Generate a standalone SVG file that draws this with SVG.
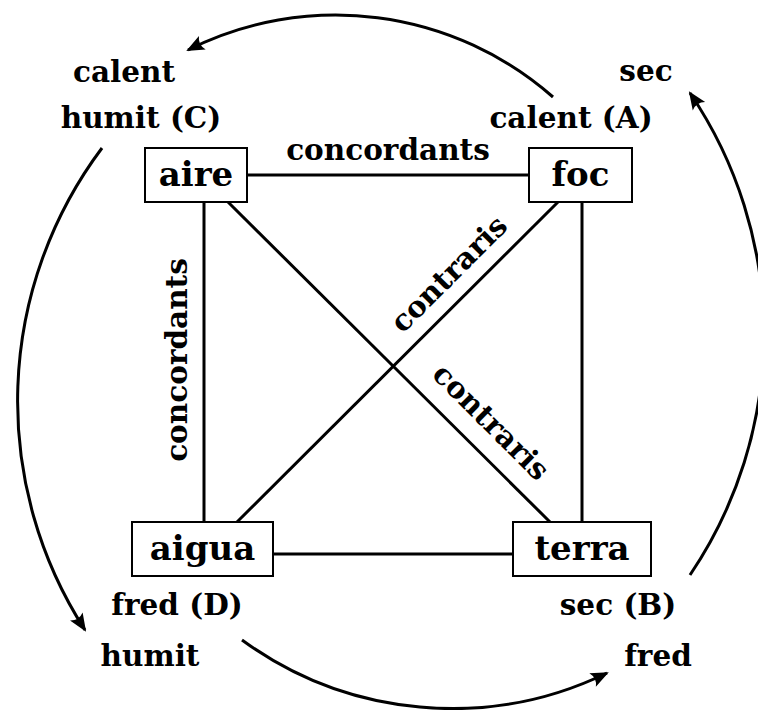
<svg xmlns="http://www.w3.org/2000/svg" width="758" height="710" viewBox="0 0 758 710">
<style>
.box{fill:#fff;stroke:#000;stroke-width:2}
.node{font-family:"DejaVu Serif","Liberation Serif",serif;font-weight:bold;font-size:34px;text-anchor:middle;fill:#000}
.lbl{font-family:"DejaVu Serif","Liberation Serif",serif;font-weight:bold;font-size:29.5px;text-anchor:middle;fill:#000}
.edge{stroke:#000;stroke-width:3;fill:none}
.arc{stroke:#000;stroke-width:3;fill:none;marker-end:url(#ah)}
</style>
<defs>
<marker id="ah" markerUnits="userSpaceOnUse" markerWidth="24" markerHeight="20" viewBox="-20 -10 24 20" refX="0" refY="0" orient="auto">
<path d="M2,0 L-16,-7.5 Q-11,0 -16,7.5 Z" fill="#000"/>
</marker>
</defs>
<g id="connectors">
<line class="edge" x1="247" y1="175" x2="529" y2="175"/>
<line class="edge" x1="204" y1="202" x2="204" y2="522"/>
<line class="edge" x1="582" y1="202" x2="582" y2="522"/>
<line class="edge" x1="273" y1="554" x2="513" y2="554"/>
<line class="edge" x1="228" y1="202" x2="550" y2="522"/>
<line class="edge" x1="558" y1="202" x2="237" y2="522"/>
<path class="arc" d="M553,97 A329,329 0 0 0 188,50"/>
<path class="arc" d="M102,148 A422,422 0 0 0 85,630"/>
<path class="arc" d="M242,640 A356,356 0 0 0 607,673"/>
<path class="arc" d="M690,575 A430,430 0 0 0 690,93"/>
</g>
<g id="edge-labels">
<text class="lbl" x="388" y="160">concordants</text>
<text class="lbl" transform="translate(187,360) rotate(-90)">concordants</text>
<text class="lbl" transform="translate(456,281) rotate(-45)">contraris</text>
<text class="lbl" transform="translate(484,429) rotate(45)">contraris</text>
</g>
<g id="aire"><rect class="box" x="145" y="148" width="102" height="54"/><text class="node" x="196" y="186">aire</text></g>
<g id="foc"><rect class="box" x="529" y="148" width="103" height="54"/><text class="node" x="580.5" y="186">foc</text></g>
<g id="aigua"><rect class="box" x="132" y="522" width="141" height="54"/><text class="node" x="202.5" y="560">aigua</text></g>
<g id="terra"><rect class="box" x="513" y="522" width="138" height="54"/><text class="node" x="582" y="560">terra</text></g>
<g id="state-labels">
<text class="lbl" x="124" y="82">calent</text>
<text class="lbl" x="141" y="128">humit (C)</text>
<text class="lbl" x="646" y="81">sec</text>
<text class="lbl" x="571" y="128">calent (A)</text>
<text class="lbl" x="177" y="615">fred (D)</text>
<text class="lbl" x="150" y="666">humit</text>
<text class="lbl" x="618" y="615">sec (B)</text>
<text class="lbl" x="658" y="666">fred</text>
</g>
</svg>
